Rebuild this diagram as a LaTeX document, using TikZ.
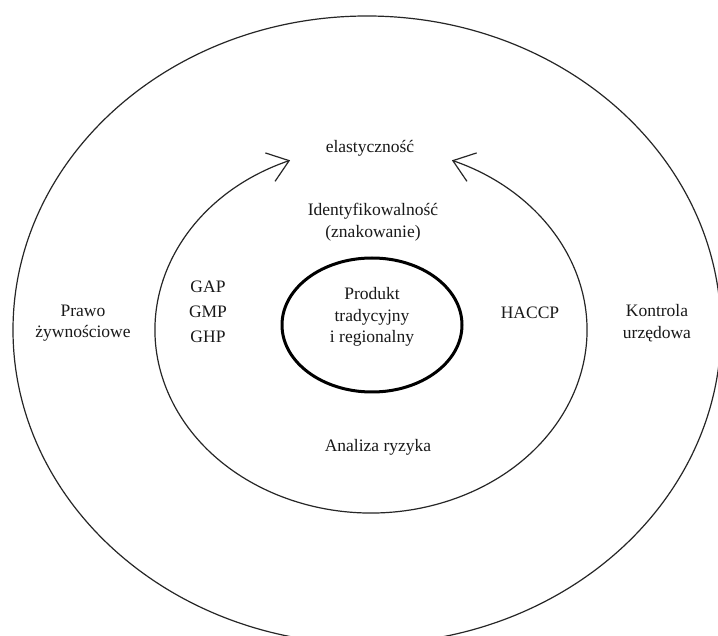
\documentclass[tikz,border=0pt]{standalone}
\usepackage{fontspec}
\setmainfont{Liberation Serif}
\usetikzlibrary{arrows.meta,positioning}
\tikzset{
	ring/.style     = {draw=black!85, line width=1.2pt},
	core/.style     = {draw=black, line width=3pt},
	feedback/.style = {ring, {Straight Barb[length=20pt,width=30pt]}-{Straight Barb[length=20pt,width=30pt]}},
	txt/.style      = {align=center, inner sep=0pt, text=black!90,
		font=\fontsize{17.5}{21.5}\selectfont},
	gxp/.style      = {txt, font=\fontsize{17.5}{25}\selectfont},
}

\begin{document}
\begin{tikzpicture}[x=1pt, y=1pt]
\fill [white] (0,0) rectangle (718,635);
\useasboundingbox (0,0) rectangle (718,635);

\coordinate (outer) at (367,305);
\coordinate (inner) at (371,305);
\coordinate (centre) at (372,310);

\draw [ring] (outer) ellipse [x radius=354, y radius=314];
\draw [feedback] ([shift={(112:216 and 183)}]inner)
	arc [start angle=112, end angle=428, x radius=216, y radius=183];
\draw [core] (centre) ellipse [x radius=90, y radius=67];

\node [txt] (produkt) at (372,318) {Produkt\\tradycyjny\\i regionalny};
\node [txt] (elast) at (370,487) {elastyczność};
\node [txt] (ident) at (373,413) {Identyfikowalność\\(znakowanie)};
\node [gxp] (gxp) at (208,323) {GAP\\GMP\\GHP};
\node [txt] (haccp) at (530,322) {HACCP};
\node [txt] (ryzyko) at (378,188) {Analiza ryzyka};
\node [txt] (prawo) at (83,312) {Prawo\\żywnościowe};
\node [txt] (kontrola) at (657,312) {Kontrola\\urzędowa};
\end{tikzpicture}
\end{document}
